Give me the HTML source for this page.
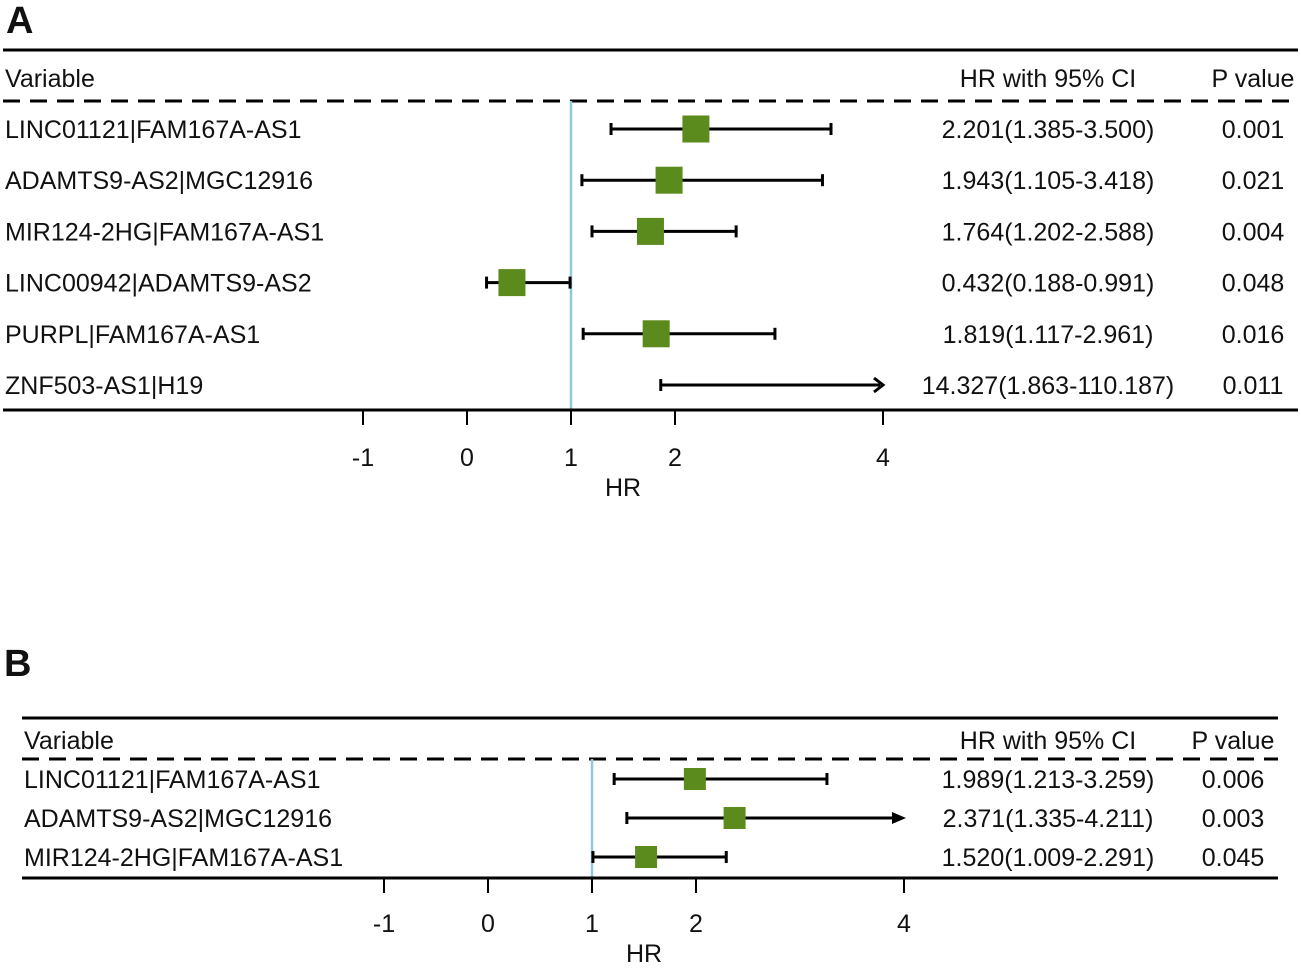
<!DOCTYPE html>
<html><head><meta charset="utf-8"><style>
body{margin:0;background:#fff}
svg text{font-family:"Liberation Sans",Arial,sans-serif;fill:#111}
</style></head><body>
<svg id="c" width="1301" height="966" xmlns="http://www.w3.org/2000/svg"></svg>
<script>
const labelsA=["LINC01121|FAM167A-AS1","ADAMTS9-AS2|MGC12916","MIR124-2HG|FAM167A-AS1","LINC00942|ADAMTS9-AS2","PURPL|FAM167A-AS1","ZNF503-AS1|H19"];
const hrA=[2.201,1.943,1.764,0.432,1.819,14.327];
const loA=[1.385,1.105,1.202,0.188,1.117,1.863];
const hiA=[3.500,3.418,2.588,0.991,2.961,110.187];
const pA=["0.001","0.021","0.004","0.048","0.016","0.011"];
const labelsB=["LINC01121|FAM167A-AS1","ADAMTS9-AS2|MGC12916","MIR124-2HG|FAM167A-AS1"];
const hrB=[1.989,2.371,1.520];
const loB=[1.213,1.335,1.009];
const hiB=[3.259,4.211,2.291];
const pB=["0.006","0.003","0.045"];
const ticks=[-1,0,1,2,4];
const tickLabels=["-1","0","1","2","4"];
const NS="http://www.w3.org/2000/svg";
const svg=document.getElementById('c');
const FS=25;
function mk(t,a,txt){const e=document.createElementNS(NS,t);for(const k in a)e.setAttribute(k,a[k]);if(txt!==undefined)e.textContent=txt;svg.appendChild(e);return e;}
function fmt(v){return v.toFixed(3);}
function panel(P){
  const x=v=>P.x0+104*Math.min(v,4);
  let e=mk('text',{x:P.lx,y:P.ly,'font-size':38,'font-weight':'bold'},P.letter);
  
  e=mk('line',{x1:P.l,x2:P.r,y1:P.top,y2:P.top,stroke:'#000','stroke-width':3});
  
  e=mk('text',{x:P.l+2,y:P.hy,'font-size':FS},'Variable');
  
  e=mk('text',{x:P.hrc,y:P.hy,'font-size':FS,'text-anchor':'middle'},'HR with 95% CI');
  
  e=mk('text',{x:P.pc,y:P.hy,'font-size':FS,'text-anchor':'middle'},'P value');
  
  e=mk('line',{x1:P.l,x2:P.r,y1:P.dash,y2:P.dash,stroke:'#000','stroke-width':3,'stroke-dasharray':'17,10'});
  
  e=mk('line',{x1:x(1),x2:x(1),y1:P.dash,y2:P.bot,stroke:'#8ecbd6','stroke-width':2.5});
  
  P.labels.forEach((lab,i)=>{
    const y=P.r0+i*P.dy;
    let t=mk('text',{x:P.l+2,y:y+9,'font-size':FS},lab);
    
    const a=x(P.lo[i]),b=x(P.hi[i]),clip=P.hi[i]>4;
    t=mk('line',{x1:a,x2:clip?b-3:b,y1:y,y2:y,stroke:'#000','stroke-width':3});
    
    t=mk('line',{x1:a,x2:a,y1:y-6,y2:y+6,stroke:'#000','stroke-width':3});
    
    if(clip){
      t=mk('path',P.arrowFill?{d:`M${b-12},${y-6} L${b+2},${y} L${b-12},${y+6} Z`,fill:'#000'}:{d:`M${b-9},${y-7} L${b},${y} L${b-9},${y+7}`,fill:'none',stroke:'#000','stroke-width':3});
      
    }else{
      t=mk('line',{x1:b,x2:b,y1:y-6,y2:y+6,stroke:'#000','stroke-width':3});
      
    }
    if(P.hr[i]<=4){
      const s=P.box;
      t=mk('rect',{x:x(P.hr[i])-s/2,y:y-s/2,width:s,height:s,fill:'#5b8a1d'});
      
    }
    t=mk('text',{x:P.hrc,y:y+9,'font-size':FS,'text-anchor':'middle'},fmt(P.hr[i])+'('+fmt(P.lo[i])+'-'+fmt(P.hi[i])+')');
    
    t=mk('text',{x:P.pc,y:y+9,'font-size':FS,'text-anchor':'middle'},P.p[i]);
    
  });
  e=mk('line',{x1:P.l,x2:P.r,y1:P.bot,y2:P.bot,stroke:'#000','stroke-width':3});
  
  ticks.forEach((v,i)=>{
    let t=mk('line',{x1:x(v),x2:x(v),y1:P.bot,y2:P.bot+15,stroke:'#000','stroke-width':2});
    
    t=mk('text',{x:x(v),y:P.bot+P.tly,'font-size':FS,'text-anchor':'middle'},tickLabels[i]);
    
  });
  e=mk('text',{x:x(1)+52,y:P.bot+P.tly+30,'font-size':FS,'text-anchor':'middle'},'HR');
  
}
panel({letter:'A',lx:6,ly:33,l:3,r:1298,top:50,hy:87,dash:101,bot:410,r0:129,dy:51.2,x0:467,hrc:1048,pc:1253,box:27,arrowFill:false,tly:56,
  labels:labelsA,hr:hrA,lo:loA,hi:hiA,p:pA});
panel({letter:'B',lx:4,ly:676,l:22,r:1278,top:718,hy:749,dash:759,bot:878,r0:779,dy:39,x0:488,hrc:1048,pc:1233,box:22,arrowFill:true,tly:54,
  labels:labelsB,hr:hrB,lo:loB,hi:hiB,p:pB});
</script>
</body></html>
